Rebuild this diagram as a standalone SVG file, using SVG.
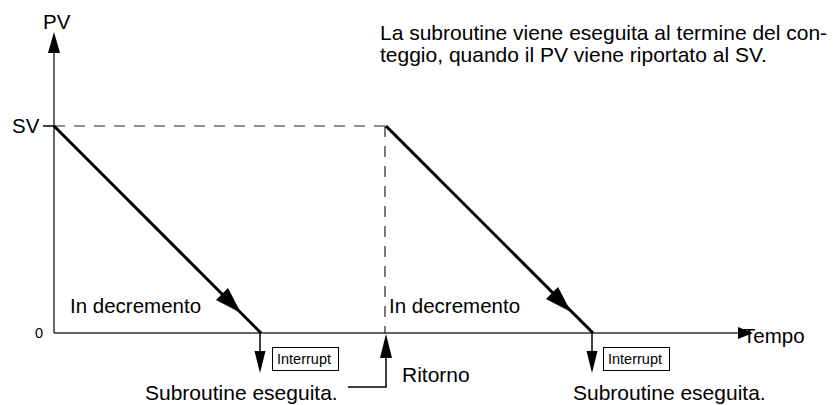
<svg xmlns="http://www.w3.org/2000/svg" width="834" height="405" viewBox="0 0 834 405">
<style>
text{font-family:"Liberation Sans",Arial,sans-serif;fill:#000}
.lbl{font-size:20.5px}
.big{font-size:21px}
.small{font-size:14.5px}
.axis{stroke:#333;stroke-width:1.5;fill:none}
.dash{stroke:#222;stroke-width:1.2;stroke-dasharray:11 9;fill:none}
.ramp{stroke:#000;stroke-width:3;fill:none}
.thin{stroke:#000;stroke-width:1.5;fill:none}
.head{fill:#000;stroke:none}
.box{fill:#fff;stroke:#000;stroke-width:1}
</style>
<rect width="834" height="405" fill="#fff"/>
<g id="connectors">
  <line class="axis" x1="54" y1="52" x2="54" y2="333"/>
  <polygon class="head" points="54,32 48,53 60,53"/>
  <line class="axis" x1="54" y1="333" x2="740" y2="333"/>
  <polygon class="head" points="753,333 738,327 738,339"/>
  <line class="thin" x1="43" y1="126" x2="54" y2="126"/>
  <line class="dash" x1="54" y1="126" x2="386" y2="126"/>
  <line class="dash" x1="385" y1="126" x2="385" y2="333"/>
  <line class="ramp" x1="54" y1="126" x2="261" y2="333"/>
  <polygon class="head" points="241,313 216,300 228,288"/>
  <line class="ramp" x1="386" y1="126" x2="593" y2="333"/>
  <polygon class="head" points="571,312 546,299 558,287"/>
  <line class="thin" x1="260" y1="333" x2="260" y2="355"/>
  <polygon class="head" points="260,373 254.5,351 265.5,351"/>
  <line class="thin" x1="592" y1="333" x2="592" y2="355"/>
  <polygon class="head" points="592,373 586.5,351 597.5,351"/>
  <polyline class="thin" points="386,355 386,387 348,387"/>
  <polygon class="head" points="386,334 380,358 392,358"/>
</g>
<g id="axis-labels">
  <text class="lbl" x="43" y="29">PV</text>
  <text class="lbl" x="12" y="133">SV</text>
  <text class="small" x="35" y="338">0</text>
  <text class="lbl" x="743" y="343">Tempo</text>
</g>
<g id="note">
  <text class="big" x="380" y="40">La subroutine viene eseguita al termine del con-</text>
  <text class="big" x="380" y="62">teggio, quando il PV viene riportato al SV.</text>
</g>
<g id="ramp1">
  <text class="lbl" x="70" y="313">In decremento</text>
</g>
<g id="ramp2">
  <text class="lbl" x="389" y="313">In decremento</text>
</g>
<g id="interrupt1">
  <rect class="box" x="272.5" y="347.5" width="66" height="23"/>
  <text class="small" x="277" y="364">Interrupt</text>
  <text class="big" x="145" y="400">Subroutine eseguita.</text>
</g>
<g id="ritorno">
  <text class="big" x="402" y="382">Ritorno</text>
</g>
<g id="interrupt2">
  <rect class="box" x="603.5" y="347.5" width="66" height="23"/>
  <text class="small" x="608" y="364">Interrupt</text>
  <text class="big" x="573" y="400">Subroutine eseguita.</text>
</g>
</svg>
